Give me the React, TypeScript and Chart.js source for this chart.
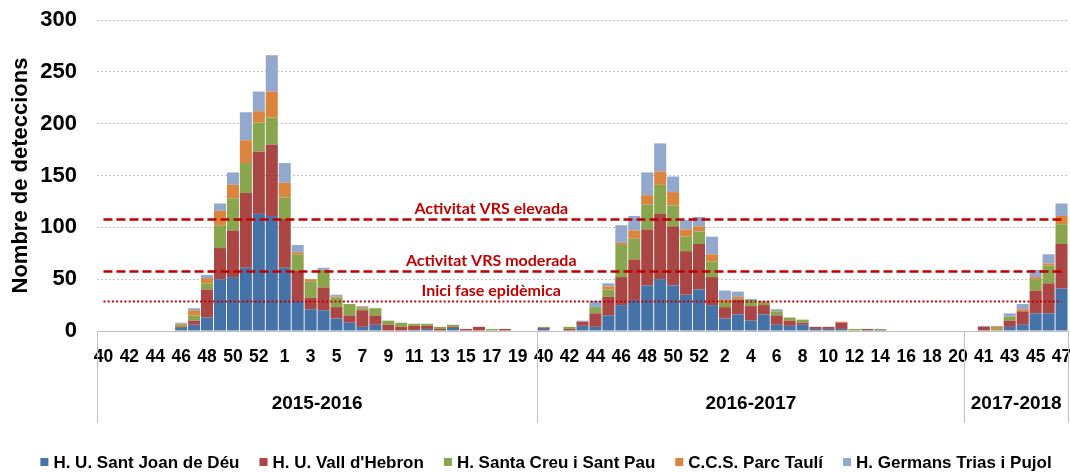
import React, { useEffect, useRef } from 'react';
import { Chart, registerables } from 'chart.js';

Chart.register(...registerables);

// ---- categories (epidemiological weeks) ----
const weeks1516 = ['40','41','42','43','44','45','46','47','48','49','50','51','52','53','1','2','3','4','5','6','7','8','9','10','11','12','13','14','15','16','17','18','19','20'];
const weeks1617 = ['40','41','42','43','44','45','46','47','48','49','50','51','52','1','2','3','4','5','6','7','8','9','10','11','12','13','14','15','16','17','18','19','20'];
const weeks1718 = ['40','41','42','43','44','45','46','47'];
const seasonNames = ['2015-2016', '2016-2017', '2017-2018'];
const seasonWeeks = [weeks1516, weeks1617, weeks1718];
const categories = [...weeks1516, ...weeks1617, ...weeks1718];

// ---- series ----
const hospitalNames = [
  'H. U. Sant Joan de Déu',
  "H. U. Vall d'Hebron",
  'H. Santa Creu i Sant Pau',
  'C.C.S. Parc Taulí',
  'H. Germans Trias i Pujol',
];
const hospitalColors = ['#4572A7', '#AA4643', '#89A54E', '#DB843D', '#92A8CD'];

const santJoanDeDeu = [
  0,0,0,0,0,0,3,6,13,50,52,61,113,111,61,29,21,20,12,8,4,6,0,0,1,2,0,3,0,0,0,0,0,0,
  2,0,0,5,4,15,25,30,44,50,44,35,40,25,12,16,10,16,6,5,6,2,2,2,0,1,1,0,0,0,0,0,0,
  0,0,0,4,6,17,17,41,
];
const vallHebron = [
  0,0,0,0,0,0,1,4,27,30,45,72,60,69,47,29,11,22,11,7,16,9,6,4,4,3,2,1,2,4,0,2,0,0,
  1,0,2,4,13,18,27,39,54,63,57,42,44,27,11,14,14,9,9,5,2,2,2,6,0,1,0,0,0,0,0,0,0,
  0,4,0,6,13,22,29,43,
];
const santPau = [
  0,0,0,0,0,0,2,5,6,22,31,29,28,26,21,16,16,17,9,11,2,7,4,4,2,2,2,2,0,0,2,0,0,0,
  1,0,2,0,6,7,31,20,24,28,20,14,12,15,5,1,6,2,4,3,3,0,0,0,2,0,1,0,0,0,0,0,0,
  0,0,2,4,0,11,17,19,
];
const parcTauli = [
  0,0,0,0,0,0,1,5,5,14,13,22,11,25,14,2,2,0,1,0,1,0,0,0,0,0,0,0,0,0,0,0,0,0,
  0,0,0,0,0,3,2,8,9,13,13,7,5,7,2,2,0,1,0,0,0,0,0,1,0,0,0,0,0,0,0,0,0,
  0,0,2,0,2,2,2,8,
];
const germansTrias = [
  0,0,0,0,0,0,1,2,3,7,12,27,19,35,19,7,0,2,2,0,1,0,0,0,0,0,0,0,0,0,0,0,0,0,
  0,0,0,1,6,3,17,14,22,27,15,9,9,17,9,5,1,1,2,0,0,0,0,0,0,0,0,0,0,0,0,0,0,
  0,1,1,3,5,7,9,12,
];
const seriesValues = [santJoanDeDeu, vallHebron, santPau, parcTauli, germansTrias];

// ---- y axis ----
const yTicks = [0, 50, 100, 150, 200, 250, 300];

// ---- reference thresholds ----
const thresholdValues = [108, 58, 28.5];
const thresholdLabels = ['Activitat VRS elevada', 'Activitat VRS moderada', 'Inici fase epidèmica'];
const thresholdDashes = [[9, 4], [9, 4], [2, 2.2]];
const thresholdWidths = [2.5, 2.5, 2];

const FONT = '"Liberation Sans", Arial, sans-serif';
const LABEL_FONT = 'Lato, "Liberation Sans", sans-serif';
const RED = '#C00000';

const thresholdPlugin = {
  id: 'thresholds',
  afterDatasetsDraw(chart: any) {
    const { ctx, scales } = chart;
    const xs = scales.x;
    const ys = scales.y;
    const x0 = xs.getPixelForValue(0);
    const x1 = xs.getPixelForValue(categories.length - 1);
    const area = chart.chartArea;
    const labelX = area.left + (area.right - area.left) * 0.406;
    ctx.save();
    thresholdValues.forEach((v, i) => {
      const y = Math.round(ys.getPixelForValue(v)) + 0.5;
      ctx.beginPath();
      ctx.setLineDash(thresholdDashes[i]);
      ctx.lineWidth = thresholdWidths[i];
      ctx.strokeStyle = RED;
      ctx.moveTo(x0, y);
      ctx.lineTo(x1, y);
      ctx.stroke();
      ctx.setLineDash([]);
      ctx.fillStyle = RED;
      ctx.font = `bold 16px ${LABEL_FONT}`;
      ctx.textAlign = 'center';
      ctx.textBaseline = 'middle';
      ctx.fillText(thresholdLabels[i], labelX, y - 11);
    });
    ctx.restore();
  },
};

const groupPlugin = {
  id: 'groups',
  afterDraw(chart: any) {
    const { ctx } = chart;
    const xs = chart.scales.x;
    const area = chart.chartArea;
    const bounds: number[] = [area.left];
    let idx = 0;
    seasonWeeks.forEach((w, s) => {
      idx += w.length;
      if (s < seasonWeeks.length - 1) {
        bounds.push((xs.getPixelForValue(idx - 1) + xs.getPixelForValue(idx)) / 2);
      }
    });
    bounds.push(area.right);
    ctx.save();
    ctx.strokeStyle = '#BFBFBF';
    ctx.lineWidth = 1;
    bounds.forEach((b) => {
      const x = Math.min(Math.round(b) + 0.5, chart.width - 1.5);
      ctx.beginPath();
      ctx.moveTo(x, area.bottom);
      ctx.lineTo(x, area.bottom + 92);
      ctx.stroke();
    });
    ctx.fillStyle = '#000';
    ctx.font = `bold 19px ${FONT}`;
    ctx.textAlign = 'center';
    ctx.textBaseline = 'middle';
    seasonNames.forEach((name, s) => {
      ctx.fillText(name, (bounds[s] + bounds[s + 1]) / 2, area.bottom + 73);
    });
    ctx.restore();
  },
};

const legendPlugin = {
  id: 'customLegend',
  afterDraw(chart: any) {
    const { ctx } = chart;
    const datasets = chart.data.datasets;
    const box = 8;
    const gapText = 5;
    const gapItem = 20;
    const cy = 462;
    ctx.save();
    ctx.font = `bold 17px ${FONT}`;
    const widths = datasets.map((d: any) => ctx.measureText(d.label).width);
    const total = widths.reduce((a: number, w: number) => a + box + gapText + w, 0) + gapItem * (datasets.length - 1);
    let x = chart.width / 2 + 11 - total / 2;
    ctx.textBaseline = 'middle';
    ctx.textAlign = 'left';
    datasets.forEach((d: any, i: number) => {
      ctx.fillStyle = d.backgroundColor;
      ctx.fillRect(x, cy - box / 2, box, box);
      ctx.fillStyle = '#000';
      ctx.fillText(d.label, x + box + gapText, cy + 1);
      x += box + gapText + widths[i] + gapItem;
    });
    ctx.restore();
  },
};

export default function App() {
  const ref = useRef<HTMLCanvasElement | null>(null);

  useEffect(() => {
    document.body.style.margin = '0';
    if (!ref.current) return;
    const chart = new Chart(ref.current, {
      type: 'bar',
      data: {
        labels: categories,
        datasets: hospitalNames.map((name, i) => ({
          label: name,
          data: seriesValues[i],
          backgroundColor: hospitalColors[i],
          borderWidth: 0,
          barPercentage: 0.93,
          categoryPercentage: 1,
          stack: 'all',
        })),
      },
      options: {
        animation: false,
        responsive: false,
        maintainAspectRatio: false,
        layout: { padding: { top: 20, right: 2, left: 0, bottom: 46 } },
        plugins: {
          legend: { display: false },
          tooltip: { enabled: false },
        },
        scales: {
          x: {
            stacked: true,
            grid: { display: false, drawTicks: false },
            border: { display: true, color: '#BFBFBF', width: 1 },
            ticks: {
              autoSkip: false,
              maxRotation: 0,
              minRotation: 0,
              padding: 16,
              color: '#000',
              font: { family: FONT, size: 17.5, weight: 'bold' },
              callback: (_v: any, i: number) => (i % 2 === 0 ? categories[i] : ''),
            },
            afterFit: (s: any) => {
              s.height = 95;
              s.paddingLeft = 0;
              s.paddingRight = 0;
            },
          },
          y: {
            stacked: true,
            min: 0,
            max: 300,
            afterBuildTicks: (s: any) => {
              s.ticks = yTicks.map((v) => ({ value: v }));
            },
            ticks: {
              padding: 20,
              color: '#000',
              font: { family: FONT, size: 22, weight: 'bold' },
            },
            grid: { color: '#BFBFBF', drawTicks: false, lineWidth: 1 },
            border: { display: false, dash: [2, 2] },
            title: {
              display: true,
              text: 'Nombre de deteccions',
              color: '#000',
              font: { family: FONT, size: 22, weight: 'bold' },
              padding: { top: 8, bottom: 0 },
            },
            afterFit: (s: any) => {
              s.width = 97;
              s.paddingTop = 0;
              s.paddingBottom = 0;
            },
          },
        },
      } as any,
      plugins: [thresholdPlugin, groupPlugin, legendPlugin],
    });
    return () => chart.destroy();
  }, []);

  return (
    <div style={{ width: 1070, height: 472 }}>
      <canvas ref={ref} width={1070} height={472} style={{ display: 'block' }} />
    </div>
  );
}
